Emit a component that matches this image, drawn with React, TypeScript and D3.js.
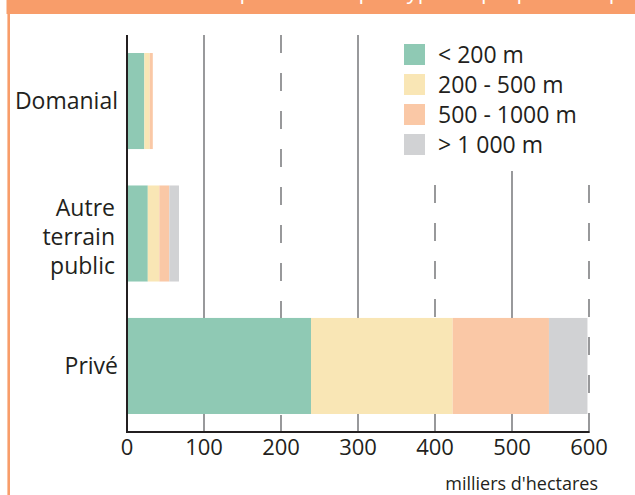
import React from "react";
import * as d3 from "d3";

// ---- data ----
const categories = ["Domanial", "Autre terrain public", "Privé"];
const categoryLines = [["Domanial"], ["Autre", "terrain", "public"], ["Privé"]];
const seriesNames = ["< 200 m", "200 - 500 m", "500 - 1000 m", "> 1 000 m"];
const below200 = [22.5, 27, 239];
const from200to500 = [7, 15, 184];
const from500to1000 = [4, 13, 125];
const above1000 = [0, 12.5, 50];
const xTicks = [0, 100, 200, 300, 400, 500, 600];
const xUnit = "milliers d'hectares";
const headerTitle = "Surface forestière de production par type de propriété et par tranche d'altitude";

// ---- style ----
const W = 635;
const H = 495;
const colors = ["#8fc9b4", "#f9e6b5", "#fac8a6", "#d1d2d4"];
const orange = "#f89d6a";
const ink = "#231f20";
const gridColor = "#6d6e71";
const FONT = "'Open Sans', 'DejaVu Sans', sans-serif";
// gridline starts (visual layout, legend area leaves upper-right free)
const gridTop: Record<number, number> = { 100: 35, 200: 35, 300: 35, 400: 185, 500: 171, 600: 185 };
const dashedTicks = new Set([200, 400, 600]);

export default function App() {
  const x = d3.scaleLinear().domain([0, 600]).range([127, 589]);
  const y = d3
    .scaleBand<string>()
    .domain(categories)
    .range([35, 432])
    .paddingInner(0.275)
    .paddingOuter(0.136);
  const axisY = 432;

  const table = categories.map((c, i) => ({
    cat: c,
    s0: below200[i],
    s1: from200to500[i],
    s2: from500to1000[i],
    s3: above1000[i],
  }));
  const stack = d3.stack<any>().keys(["s0", "s1", "s2", "s3"]);
  const layers = stack(table);

  return (
    <div style={{ position: "absolute", left: 0, top: 0 }}>
      <svg width={W} height={H} style={{ display: "block", background: "#fff" }}>
        {/* header band and frame */}
        <rect x={6.5} y={0} width={W - 6.5} height={14} fill={orange} />
        <text x={20} y={-1} fill="#fff" fontFamily={FONT} fontSize={22}>
          {headerTitle}
        </text>
        <line x1={8.7} x2={8.7} y1={14} y2={H} stroke={orange} strokeWidth={2.6} />

        {/* gridlines */}
        {xTicks
          .filter((t) => t > 0)
          .map((t) => (
            <line
              key={"g" + t}
              x1={x(t)}
              x2={x(t)}
              y1={gridTop[t]}
              y2={axisY}
              stroke={gridColor}
              strokeWidth={1.4}
              strokeDasharray={dashedTicks.has(t) ? "18 20" : undefined}
            />
          ))}

        {/* bars */}
        {layers.map((layer, li) =>
          layer.map((d, di) => (
            <rect
              key={`b${li}-${di}`}
              x={x(d[0])}
              y={y(d.data.cat)}
              width={Math.max(0, x(d[1]) - x(d[0]))}
              height={y.bandwidth()}
              fill={colors[li]}
            />
          ))
        )}

        {/* axes */}
        <line x1={x(0)} x2={x(0)} y1={35} y2={axisY + 1} stroke={ink} strokeWidth={2} />
        <line x1={x(0) - 1} x2={x(600) + 0.7} y1={axisY} y2={axisY} stroke={ink} strokeWidth={2} />

        {/* tick labels */}
        {xTicks.map((t) => (
          <text
            key={"t" + t}
            x={x(t)}
            y={455}
            textAnchor="middle"
            fontFamily={FONT}
            fontSize={22}
            fill={ink}
          >
            {t}
          </text>
        ))}
        <text x={598} y={490} textAnchor="end" fontFamily={FONT} fontSize={18} fill={ink}>
          {xUnit}
        </text>

        {/* category labels */}
        {categories.map((c, i) => {
          const lines = categoryLines[i];
          const cy = (y(c) as number) + y.bandwidth() / 2;
          const lh = 29;
          const startBase = cy + 8 - ((lines.length - 1) * lh) / 2 + (lines.length > 1 ? 3 : 0);
          const right = lines.length > 1 ? 115 : 118;
          return (
            <text key={"c" + c} textAnchor="end" fontFamily={FONT} fontSize={23} fill={ink}>
              {lines.map((l, k) => (
                <tspan key={k} x={right} y={startBase + k * lh}>
                  {l}
                </tspan>
              ))}
            </text>
          );
        })}

        {/* legend */}
        {seriesNames.map((s, i) => (
          <g key={"l" + i} transform={`translate(404, ${44 + i * 30})`}>
            <rect x={0} y={0} width={21} height={21} fill={colors[i]} />
            <text x={34} y={19} fontFamily={FONT} fontSize={23} fill={ink}>
              {s}
            </text>
          </g>
        ))}
      </svg>
    </div>
  );
}
